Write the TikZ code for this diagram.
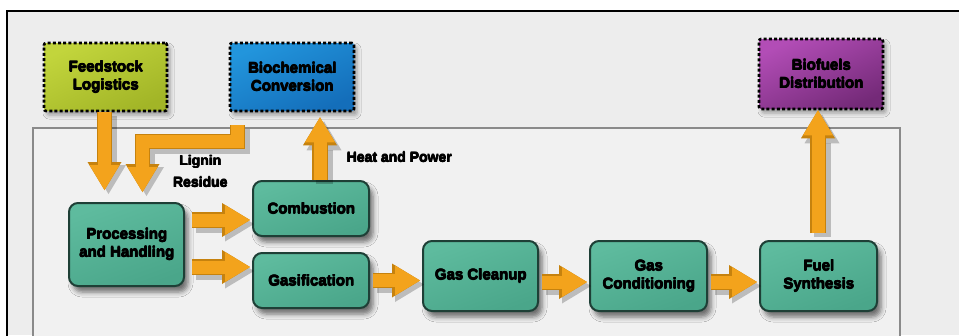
\documentclass[tikz,border=0pt]{standalone}
\usepackage{fontspec}
\setmainfont{Liberation Sans}
\newfontfamily\heavy{Liberation Sans}[UprightFont={* Bold}]
\usetikzlibrary{arrows.meta,shadows.blur}

% extra-heavy lettering: the bold face overprinted with slight offsets
\newcommand\fat[1]{%
  \makebox[0pt][l]{\hspace{0.7pt}#1}%
  \makebox[0pt][l]{\hspace{0.35pt}\raisebox{0.45pt}{#1}}%
  \makebox[0pt][l]{\hspace{0.35pt}\raisebox{-0.3pt}{#1}}%
  #1}

\definecolor{pagebg}{HTML}{EDEDED}
\definecolor{panelbg}{HTML}{F1F1F1}
\definecolor{panelline}{HTML}{8A8A8A}
\definecolor{teallight}{HTML}{5EBB9E}
\definecolor{tealdark}{HTML}{4AA68A}
\definecolor{tealedge}{HTML}{1E3F36}
\definecolor{limelight}{HTML}{C2D53C}
\definecolor{limedark}{HTML}{A2B527}
\definecolor{bluelight}{HTML}{2295DC}
\definecolor{bluedark}{HTML}{146EBA}
\definecolor{purplelight}{HTML}{B24DB6}
\definecolor{purpledark}{HTML}{742A78}
\definecolor{arrowfill}{HTML}{F3A31C}
\definecolor{arrowedge}{HTML}{C6820E}

\tikzset{
  stagebox/.style={
    rounded corners=9pt, draw=tealedge, line width=2pt,
    top color=teallight, bottom color=tealdark, shading angle=20,
    align=center, inner sep=2pt,
    font=\heavy\fontsize{15}{18}\selectfont,
    blur shadow={shadow xshift=4pt, shadow yshift=-6pt,
                 shadow blur radius=5pt, shadow opacity=55}},
  linkbox/.style={
    rounded corners=2pt, draw=black, line width=2.6pt,
    dash pattern=on 3pt off 2.2pt,
    align=center, inner sep=2pt,
    font=\heavy\fontsize{15}{18}\selectfont,
    blur shadow={shadow xshift=3pt, shadow yshift=-4pt,
                 shadow blur radius=4pt, shadow opacity=35}},
  flowlabel/.style={font=\heavy\fontsize{14}{16}\selectfont, inner sep=0pt},
  bigarrow/.style={
    color=arrowfill, line width=13pt, line join=miter,
    -{Triangle[width=30pt,length=25pt,line width=0pt]},
    preaction={draw=black, opacity=0.22, line width=17pt,
               -{Triangle[width=35pt,length=29pt,line width=0pt]},
               transform canvas={shift={(4pt,-4pt)}}},
    preaction={draw=arrowedge, line width=15.5pt,
               -{Triangle[width=34pt,length=28pt,line width=0pt]}}},
}

\begin{document}
\begin{tikzpicture}[x=1pt, y=-1pt]
  \useasboundingbox (0,0) rectangle (959,335);

  % page and framing lines
  \fill[white] (0,0) rectangle (959,335);
  \fill[pagebg] (7,11) rectangle (959,335);
  \draw[black, line width=2.2pt] (7,336) -- (7,11) -- (960,11);

  % process panel
  \fill[panelbg] (33,128) rectangle (900,340);
  \draw[panelline, line width=1.8pt] (33,340) -- (33,128) -- (900,128) -- (900,340);

  % external links (dashed)
  \node[linkbox, top color=limelight, bottom color=limedark, shading angle=25,
        minimum width=123pt, minimum height=68pt]
        (feed) at (105.5,77) {\fat{Feedstock}\\\fat{Logistics}};
  \node[linkbox, top color=bluelight, bottom color=bluedark, shading angle=25,
        minimum width=124pt, minimum height=68pt]
        (biochem) at (292,77) {\fat{Biochemical}\\\fat{Conversion}};
  \node[linkbox, top color=purplelight, bottom color=purpledark, shading angle=25,
        minimum width=124pt, minimum height=70pt]
        (distrib) at (821,74) {\fat{Biofuels}\\\fat{Distribution}};

  % conversion stages
  \node[stagebox, minimum width=115pt, minimum height=83pt]
        (proc) at (126.5,244.5) {\fat{Processing}\\\fat{and Handling}};
  \node[stagebox, minimum width=116pt, minimum height=55pt]
        (comb) at (311,208.5) {\fat{Combustion}};
  \node[stagebox, minimum width=116pt, minimum height=55pt]
        (gasif) at (311,280.5) {\fat{Gasification}};
  \node[stagebox, minimum width=115pt, minimum height=70pt]
        (clean) at (480.5,276) {\fat{Gas Cleanup}};
  \node[stagebox, minimum width=117pt, minimum height=70pt]
        (cond) at (648.5,276) {\fat{Gas}\\\fat{Conditioning}};
  \node[stagebox, minimum width=117pt, minimum height=70pt]
        (synth) at (818.5,276) {\fat{Fuel}\\\fat{Synthesis}};

  % flows
  \draw[bigarrow, shorten >=12pt] ([xshift=-1pt]feed.south)
        -- ([xshift=-1pt]feed.south |- proc.north);
  \draw[bigarrow, shorten <=13pt, shorten >=10pt] ([xshift=-54.5pt]biochem.south)
        -- ++(0,29) -| ([xshift=16pt]proc.north);
  \draw[bigarrow, shorten >=5pt] ([xshift=9pt]comb.north)
        -- ([xshift=9pt]comb.north |- biochem.south);
  \draw[bigarrow, shorten <=7pt] ([xshift=-0.5pt]synth.north)
        -- ([xshift=-0.5pt]synth.north |- distrib.south);
  \draw[bigarrow, shorten <=7pt, shorten >=2pt] ([yshift=24.5pt]proc.east)
        -- ([yshift=24.5pt]proc.east -| comb.west);
  \draw[bigarrow, shorten <=7pt, shorten >=2pt] ([yshift=-22.5pt]proc.east)
        -- ([yshift=-22.5pt]proc.east -| gasif.west);
  \draw[bigarrow, shorten <=3pt, shorten >=2pt] (gasif.east) -- (gasif.east -| clean.west);
  \draw[bigarrow, shorten <=3pt, shorten >=2pt] ([yshift=-6pt]clean.east)
        -- ([yshift=-6pt]clean.east -| cond.west);
  \draw[bigarrow, shorten <=3pt, shorten >=2pt] ([yshift=-6pt]cond.east)
        -- ([yshift=-6pt]cond.east -| synth.west);

  % flow labels
  \node[flowlabel] (lignin) at (200,162) {\fat{Lignin}};
  \node[flowlabel] (residue) at (200,182) {\fat{Residue}};
  \node[flowlabel] (heat) at (399,157) {\fat{Heat and Power}};
\end{tikzpicture}
\end{document}
